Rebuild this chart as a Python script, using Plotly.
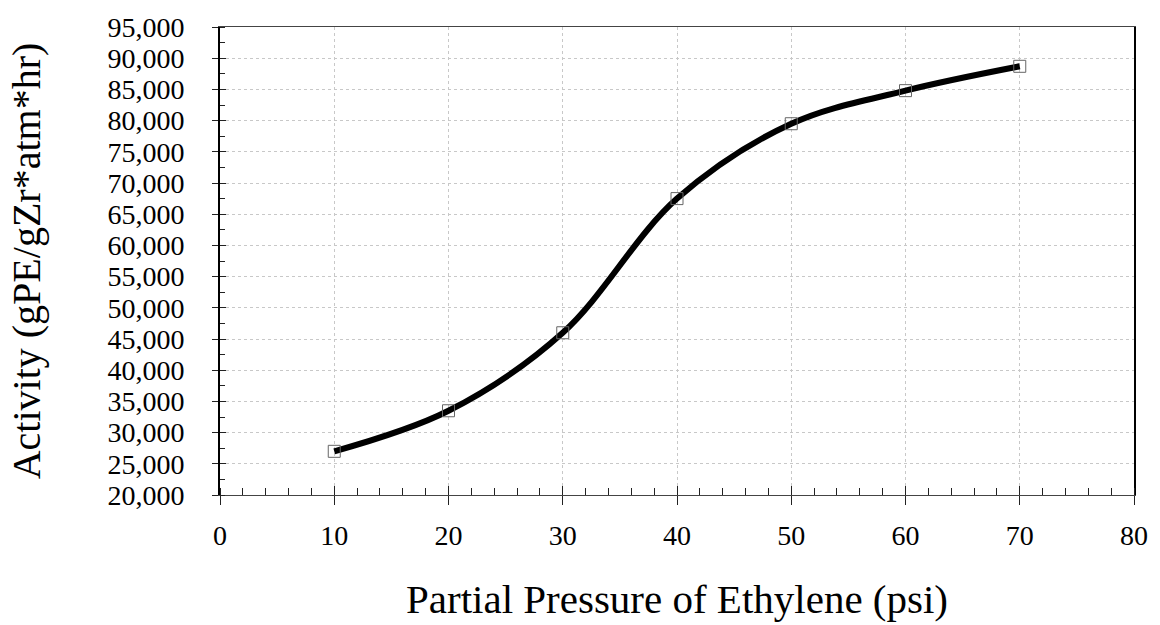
import plotly.graph_objects as go

pressure_psi = [10, 20, 30, 40, 50, 60, 70]
activity = [27000, 33500, 46000, 67500, 79500, 84800, 88700]
x_ticks = [0, 10, 20, 30, 40, 50, 60, 70, 80]
y_ticks = list(range(20000, 95001, 5000))

FONT = "Liberation Serif, Times New Roman, serif"

fig = go.Figure()
fig.add_trace(go.Scatter(
    x=pressure_psi, y=activity, mode="lines+markers",
    line=dict(color="black", width=6, shape="spline", smoothing=1.0),
    marker=dict(symbol="square-open", size=12, color="#666666", line=dict(width=1)),
    showlegend=False,
))
# overlay axes for crossing tick marks
fig.add_trace(go.Scatter(x=[None], y=[None], xaxis="x2", yaxis="y2", showlegend=False))

fig.update_layout(
    width=1160, height=625,
    margin=dict(l=220, r=21, t=25, b=125),
    paper_bgcolor="white", plot_bgcolor="white",
    font=dict(family=FONT, color="black"),
    xaxis=dict(
        range=[0, 80], tickvals=x_ticks, ticktext=[str(v) for v in x_ticks],
        ticks="outside", ticklen=9, tickwidth=1, tickcolor="#222",
        tickfont=dict(size=28, family=FONT), ticklabelstandoff=6,
        showline=True, linecolor="#444", linewidth=1,
        mirror=True, showgrid=True, gridcolor="#c8c8c8", griddash="dot", gridwidth=1,
        zeroline=False,
        minor=dict(dtick=2, ticks="inside", ticklen=7, tickcolor="#222", showgrid=False),
        title=dict(text="Partial Pressure of Ethylene (psi)", font=dict(size=41, family=FONT), standoff=34),
    ),
    yaxis=dict(
        range=[20000, 95000], tickvals=y_ticks, tickformat=",",
        ticks="outside", ticklen=6, tickwidth=1, tickcolor="#222",
        tickfont=dict(size=28, family=FONT), ticklabelstandoff=22,
        showline=True, linecolor="black", linewidth=2,
        mirror=True, showgrid=True, gridcolor="#c8c8c8", griddash="dot", gridwidth=1,
        zeroline=False,
        minor=dict(dtick=2500, ticks="inside", ticklen=5, tickcolor="#222", showgrid=False),
        title=dict(text="Activity (gPE/gZr*atm*hr)", font=dict(size=40, family=FONT), standoff=54),
    ),
    xaxis2=dict(range=[0, 80], overlaying="x", anchor="y2", tickvals=x_ticks, showticklabels=False,
                ticks="inside", ticklen=9, tickcolor="#222", showgrid=False, zeroline=False, showline=False),
    yaxis2=dict(range=[20000, 95000], overlaying="y", anchor="x2", tickvals=y_ticks, showticklabels=False,
                ticks="inside", ticklen=6, tickcolor="#222", showgrid=False, zeroline=False, showline=False),
)

fig.write_html("out.html")
